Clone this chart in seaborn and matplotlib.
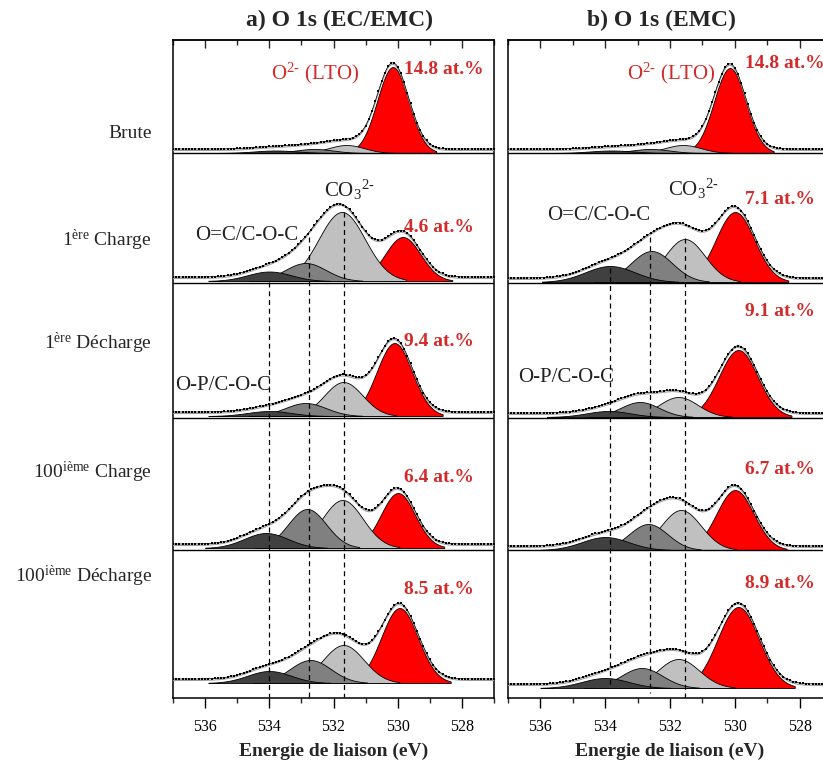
import numpy as np
import pandas as pd
import matplotlib
matplotlib.use("Agg")
import matplotlib.pyplot as plt
import seaborn as sns

# --- data ----------------------------------------------------------------
row_labels = ["Brute",
              r"1$^{\mathrm{ère}}$ Charge",
              r"1$^{\mathrm{ère}}$ Décharge",
              r"100$^{\mathrm{ième}}$ Charge",
              r"100$^{\mathrm{ième}}$ Décharge"]
at_pct_a = [14.8, 4.6, 9.4, 6.4, 8.5]
at_pct_b = [14.8, 7.1, 9.1, 6.7, 8.9]

# fitted components, one [centre (eV), height (a.u.), FWHM (eV)] per row
a_lto = [[530.15, 86, 1.15], [529.84, 44, 1.30], [530.10, 73, 1.30], [529.99, 55, 1.25], [529.94, 75, 1.35]]
a_co3 = [[531.60, 8, 1.30], [531.74, 69, 1.70], [531.69, 34, 1.40], [531.72, 48, 1.50], [531.69, 38, 1.50]]
a_oc = [[532.60, 4, 1.40], [532.87, 18, 1.50], [532.87, 13, 1.50], [532.82, 39, 1.40], [532.72, 23, 1.50]]
a_coc = [[533.80, 2.5, 1.60], [534.00, 9.5, 1.60], [534.00, 5, 1.60], [534.10, 15, 1.60], [534.00, 12, 1.60]]

b_lto = [[530.15, 85, 1.15], [529.99, 70, 1.40], [529.89, 67, 1.40], [529.99, 60, 1.35], [529.89, 81, 1.50]]
b_co3 = [[531.60, 8, 1.30], [531.54, 43, 1.45], [531.74, 20, 1.40], [531.66, 40, 1.45], [531.74, 29, 1.50]]
b_oc = [[532.60, 4, 1.40], [532.57, 31, 1.50], [532.93, 15, 1.40], [532.67, 26, 1.40], [532.87, 20, 1.50]]
b_coc = [[533.80, 2.5, 1.60], [533.85, 16, 1.80], [533.90, 6, 1.60], [534.00, 13, 1.70], [534.00, 10, 1.70]]

a_ref = [534.0, 532.75, 531.67]
b_ref = [533.85, 532.62, 531.54]

# --- layout (reference pixel rows, measured from the top) -----------------
W, H = 823, 764
AX_TOP, AX_BOT = 40, 698
a_base = [153, 281, 416, 548, 683]
b_base = [153, 282, 417, 550, 688]
separators = [153, 283, 418, 550]
label_y = [133, 240, 343, 472, 576]
BG = 2.5

RED = "#ff0000"
TXT_RED = "#d42a2a"
GREYS = {"co3": "#c0c0c0", "oc": "#808080", "coc": "#404040"}

sns.set_theme(style="ticks")
plt.rcParams["font.family"] = ["Liberation Serif", "DejaVu Serif"]
plt.rcParams["mathtext.fontset"] = "custom"
plt.rcParams["mathtext.rm"] = "Liberation Serif"
plt.rcParams["mathtext.it"] = "Liberation Serif:italic"
plt.rcParams["mathtext.bf"] = "Liberation Serif:bold"


def Y(px):
    return AX_BOT - px


def gauss(e, c, h, fwhm):
    s = fwhm / 2.3548
    return h * np.exp(-(e - c) ** 2 / (2 * s * s))


energy = np.arange(527.0, 537.001, 0.05)

fig = plt.figure(figsize=(W / 100, H / 100), dpi=100)


def draw_panel(x0, width, base, lto, co3, oc, coc, ref, ref_top, ref_bot, title, title_x):
    ax = fig.add_axes([x0 / W, (H - AX_BOT) / H, width / W, (AX_BOT - AX_TOP) / H])
    ax.set_xlim(537, 527)
    ax.set_ylim(0, AX_BOT - AX_TOP)

    for i in range(5):
        b0 = Y(base[i])
        comps = [(lto[i], RED), (co3[i], GREYS["co3"]), (oc[i], GREYS["oc"]), (coc[i], GREYS["coc"])]
        total = np.zeros_like(energy)
        for (c, h, w), col in comps:
            g = gauss(energy, c, h, w)
            total += g
            ax.fill_between(energy, b0, b0 + g, where=g > 0.02 * h, facecolor=col,
                            edgecolor="black", linewidth=0.6, zorder=2)
        env = pd.DataFrame({"E": energy, "y": b0 + BG + total})
        sns.lineplot(data=env, x="E", y="y", ax=ax, color="#9a9a9a", lw=0.8, zorder=3)
        ax.plot(energy, b0 + BG + 1.5 + total, color="black", lw=0.5, ls="-",
                marker="s", ms=1.7, markeredgewidth=0, markevery=2, zorder=4)

    for sep in separators:
        ax.axhline(Y(sep), color="black", lw=1.0, zorder=5)

    for e, t, bt in zip(ref, ref_top, ref_bot):
        ax.plot([e, e], [Y(t), Y(bt)], color="black", lw=0.9, ls=(0, (4, 3)), zorder=6)

    ax.set_xticks([536, 534, 532, 530, 528])
    ax.set_xticks(np.arange(527, 538, 1), minor=True)
    ax.set_yticks([])
    ax.tick_params(axis="x", which="major", direction="out", length=7, width=1.0,
                   labelsize=11.5, pad=8, colors="black")
    ax.tick_params(axis="x", which="minor", direction="out", length=3.6, width=1.0)
    top = ax.secondary_xaxis("top")
    top.set_xticks([536, 534, 532, 530, 528])
    top.set_xticks(np.arange(527, 538, 1), minor=True)
    top.tick_params(axis="x", which="major", direction="in", length=6, width=1.0, labeltop=False)
    top.tick_params(axis="x", which="minor", direction="in", length=3.6, width=1.0)
    for s in ax.spines.values():
        s.set_linewidth(1.1)
        s.set_color("black")
    top.spines["top"].set_linewidth(1.1)

    ax.set_xlabel("Energie de liaison (eV)", fontsize=14, fontweight="bold", labelpad=6)
    ax.set_ylabel("")
    fig.text(title_x / W, 1 - 20 / H, title, fontsize=17, fontweight="bold",
             ha="center", va="center")
    return ax


ax_a = draw_panel(173, 321, a_base, a_lto, a_co3, a_oc, a_coc, a_ref,
                  [282, 237, 212], [697, 697, 697], "a) O 1s (EC/EMC)", 339)
ax_b = draw_panel(508, 324, b_base, b_lto, b_co3, b_oc, b_coc, b_ref,
                  [268, 237, 238], [688, 693, 698], "b) O 1s (EMC)", 661)

# percentage labels
for ax, pct, ys, xe in [(ax_a, at_pct_a, [70, 228, 342, 478, 590], 529.8),
                        (ax_b, at_pct_b, [64, 200, 312, 470, 583], 529.7)]:
    for p, yy in zip(pct, ys):
        ax.text(xe, Y(yy), f"{p} at.%", color=TXT_RED, fontsize=14, fontweight="bold",
                ha="left", va="center", zorder=7)

# species labels
lto_lab = r"O$^{\text{2-}}$ (LTO)"
co3_lab = r"CO$_3$$^{\text{2-}}$"
ax_a.text(533.95, Y(73), lto_lab, color=TXT_RED, fontsize=15, ha="left", va="center")
ax_b.text(533.33, Y(73), lto_lab, color=TXT_RED, fontsize=15, ha="left", va="center")
ax_a.text(532.3, Y(190), co3_lab, color="#222222", fontsize=15, ha="left", va="center")
ax_b.text(532.05, Y(189), co3_lab, color="#222222", fontsize=15, ha="left", va="center")
ax_a.text(536.3, Y(236), "O=C/C-O-C", color="#222222", fontsize=15, ha="left", va="center")
ax_b.text(535.8, Y(215), "O=C/C-O-C", color="#222222", fontsize=15, ha="left", va="center")
ax_a.text(536.93, Y(386), "O-P/C-O-C", color="#222222", fontsize=15, ha="left", va="center")
ax_b.text(536.7, Y(377), "O-P/C-O-C", color="#222222", fontsize=15, ha="left", va="center")

# row labels
for lab, yy in zip(row_labels, label_y):
    fig.text(152 / W, 1 - yy / H, lab, fontsize=14, ha="right", va="center")

fig.savefig("out.png", dpi=100)
